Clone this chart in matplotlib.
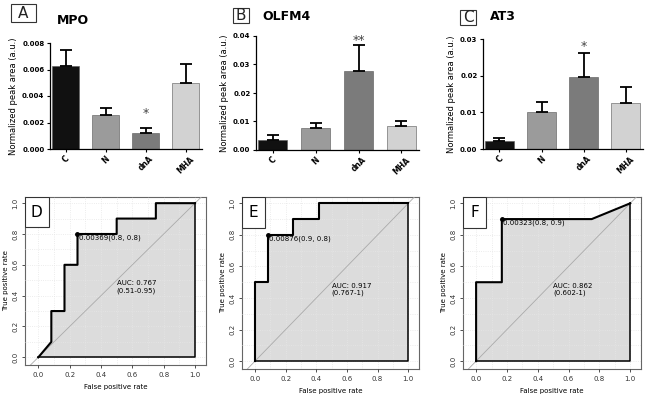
import matplotlib.pyplot as plt
from matplotlib.patches import Rectangle

# ---- bar panel data ----
groups = ["C", "N", "dnA", "MHA"]
bar_colors = ["#111111", "#9b9b9b", "#7b7b7b", "#d2d2d2"]

mpo_mean = [0.0063, 0.0026, 0.0012, 0.0050]
mpo_err = [0.0012, 0.0005, 0.0004, 0.0014]
olfm4_mean = [0.0036, 0.0077, 0.0278, 0.0083]
olfm4_err = [0.0018, 0.0017, 0.0092, 0.0019]
at3_mean = [0.0021, 0.0100, 0.0197, 0.0125]
at3_err = [0.0009, 0.0028, 0.0065, 0.0043]

# ---- ROC data ----
roc_d_fpr = [0, 0.083, 0.083, 0.167, 0.167, 0.25, 0.25, 0.5, 0.5, 0.75, 0.75, 1]
roc_d_tpr = [0, 0.1, 0.3, 0.3, 0.6, 0.6, 0.8, 0.8, 0.9, 0.9, 1.0, 1.0]
roc_e_fpr = [0, 0, 0.083, 0.083, 0.25, 0.25, 0.417, 0.417, 1]
roc_e_tpr = [0, 0.5, 0.5, 0.8, 0.8, 0.9, 0.9, 1.0, 1.0]
roc_f_fpr = [0, 0, 0.167, 0.167, 0.75, 1]
roc_f_tpr = [0, 0.5, 0.5, 0.9, 0.9, 1.0]

fig = plt.figure(figsize=(6.5, 3.96), dpi=100)
W, H = 650.0, 396.0


def ax_px(l, t, r, b):
    return fig.add_axes([l / W, 1 - b / H, (r - l) / W, (b - t) / H])


def box_label(x0, y0, x1, y1, letter):
    fig.patches.append(Rectangle((x0 / W, 1 - y1 / H), (x1 - x0) / W, (y1 - y0) / H,
                                 transform=fig.transFigure, fill=False,
                                 edgecolor="#333333", lw=0.8))
    fig.text((x0 + x1) / 2 / W, 1 - (y0 + y1) / 2 / H, letter, ha="center",
             va="center", fontsize=11, color="#222222")


def bar_panel(pos, means, errs, ymax, yticks, fmt, star, star_y):
    ax = ax_px(*pos)
    x = range(len(groups))
    ax.bar(x, means, width=0.68, color=bar_colors, edgecolor="#555555", lw=0.4)
    ax.errorbar(x, means, yerr=[[0] * len(errs), errs], fmt="none",
                ecolor="black", elinewidth=1.3, capsize=4, capthick=1.3)
    ax.set_xlim(-0.39, 3.41)
    ax.set_ylim(0, ymax)
    ax.set_yticks(yticks)
    ax.set_yticklabels([fmt.format(v) for v in yticks], fontsize=5, fontweight="bold")
    ax.set_xticks(list(x))
    ax.set_xticklabels(groups, rotation=45, fontsize=5.5, fontweight="bold",
                       ha="center", va="top")
    ax.tick_params(length=2.5, width=0.8, pad=1.5)
    for s in ["top", "right"]:
        ax.spines[s].set_visible(False)
    ax.spines["left"].set_linewidth(0.9)
    ax.spines["bottom"].set_linewidth(0.9)
    ax.set_ylabel("Normalized peak area (a.u.)", fontsize=6, labelpad=3)
    ax.text(2, star_y, star, ha="center", va="center", fontsize=9, color="#444444")
    return ax


bar_panel((50, 43, 202, 149), mpo_mean, mpo_err, 0.008,
          [0, 0.002, 0.004, 0.006, 0.008], "{:.3f}", "*", 0.0027)
bar_panel((256, 36, 419, 150), olfm4_mean, olfm4_err, 0.04,
          [0, 0.01, 0.02, 0.03, 0.04], "{:.2f}", "**", 0.0385)
bar_panel((483, 39, 643, 149), at3_mean, at3_err, 0.03,
          [0, 0.01, 0.02, 0.03], "{:.2f}", "*", 0.028)

box_label(11, 4, 36, 22, "A")
fig.text(57 / W, 1 - 21 / H, "MPO", fontsize=9, fontweight="bold", va="center")
box_label(233, 8, 249, 23, "B")
fig.text(262 / W, 1 - 16 / H, "OLFM4", fontsize=9, fontweight="semibold", va="center")
box_label(460, 10, 476, 25, "C")
fig.text(490 / W, 1 - 17 / H, "AT3", fontsize=9, fontweight="semibold", va="center")


def roc_panel(pos, fpr, tpr, letter, pt, pt_text, auc_text):
    ax = ax_px(*pos)
    ax.set_xlim(-0.085, 1.07)
    ax.set_ylim(-0.05, 1.04)
    poly_x = list(fpr) + [1, 0]
    poly_y = list(tpr) + [0, 0]
    ax.fill(poly_x, poly_y, facecolor="#dcdcdc", edgecolor="none", zorder=1)
    ax.set_xticks([i / 10 for i in range(11)], minor=True)
    ax.set_yticks([i / 10 for i in range(11)], minor=True)
    ax.grid(True, which="both", color="#e6e6e6", linestyle=":", lw=0.6, zorder=2)
    ax.set_axisbelow(False)
    ax.axline((0, 0), (1, 1), color="#aaaaaa", lw=0.6, zorder=3)
    # polygon outline (bottom and right edge)
    ax.plot([1, 1, 0], [1, 0, 0], color="black", lw=1.1, zorder=4)
    ax.plot(fpr, tpr, color="black", lw=1.5, zorder=4)
    ax.plot([pt[0]], [pt[1]], "o", color="black", ms=2.5, zorder=5)
    ax.text(pt[0] + 0.01, pt[1] - 0.005, pt_text, fontsize=5, va="top", ha="left", zorder=5)
    ax.text(0.5, 0.455, auc_text, fontsize=5, va="center", ha="left", zorder=5)
    ax.set_xticks([0, 0.2, 0.4, 0.6, 0.8, 1.0])
    ax.set_yticks([0, 0.2, 0.4, 0.6, 0.8, 1.0])
    ax.set_xticklabels(["0.0", "0.2", "0.4", "0.6", "0.8", "1.0"], fontsize=5)
    ax.set_yticklabels(["0.0", "0.2", "0.4", "0.6", "0.8", "1.0"], fontsize=5,
                       rotation=90, va="center")
    ax.tick_params(which="major", length=2.5, width=0.6, pad=2.5, colors="#333333")
    ax.tick_params(which="minor", length=0)
    for s in ax.spines.values():
        s.set_color("#666666")
        s.set_linewidth(0.8)
    ax.set_xlabel("False positive rate", fontsize=5, labelpad=4)
    ax.set_ylabel("True positive rate", fontsize=5, labelpad=2)
    ax.add_patch(Rectangle((0, 0.82), 0.13, 0.18, transform=ax.transAxes,
                           facecolor="white", edgecolor="#333333", lw=0.8, zorder=6))
    ax.text(0.065, 0.91, letter, transform=ax.transAxes, fontsize=11,
            ha="center", va="center", zorder=7)
    return ax


roc_panel((25, 197, 206, 365), roc_d_fpr, roc_d_tpr, "D", (0.25, 0.8),
          "0.00369(0.8, 0.8)", "AUC: 0.767\n(0.51-0.95)")
roc_panel((242, 197, 419, 369), roc_e_fpr, roc_e_tpr, "E", (0.083, 0.8),
          "0.00876(0.9, 0.8)", "AUC: 0.917\n(0.767-1)")
roc_panel((463, 197, 641, 369), roc_f_fpr, roc_f_tpr, "F", (0.167, 0.9),
          "0.00323(0.8, 0.9)", "AUC: 0.862\n(0.602-1)")

plt.savefig("out.png", dpi=100)
